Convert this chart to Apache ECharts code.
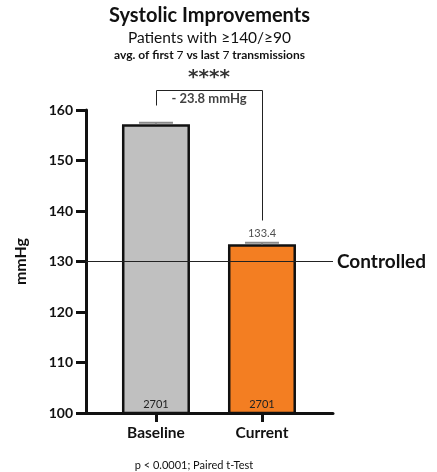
<!DOCTYPE html>
<html>
<head>
<meta charset="utf-8">
<script src="https://cdn.jsdelivr.net/npm/echarts@6/dist/echarts.min.js"></script>
<style>
  html, body { margin: 0; padding: 0; background: #fff; }
  #chart { width: 437px; height: 472px; }
</style>
</head>
<body>
<div id="chart"></div>
<script>
// Mean systolic pressure, first 7 vs last 7 transmissions
const categories = ['Baseline', 'Current'];
const meanValues = [157.2, 133.4];
const semValues = [0.3, 0.3];
const patientCounts = [2701, 2701];
const barColors = ['#C0C0C0', '#F37E22'];
const yTicks = [100, 110, 120, 130, 140, 150, 160];
const controlledLevel = 130;
const significance = '****';
const pValueNote = 'p < 0.0001; Paired t-Test';

const FONT = 'Lato, "Open Sans", sans-serif';
const diff = meanValues[1] - meanValues[0];
const diffLabel = '- ' + Math.abs(diff).toFixed(1) + ' mmHg';

// bracket between the two bars: top level and the gap left above each bar
const bracketTop = 164;
const bracketGaps = [3.8, 4.8];

const chart = echarts.init(document.getElementById('chart'), null, { renderer: 'canvas' });

const option = {
  backgroundColor: '#fff',
  animation: false,
  textStyle: { fontFamily: FONT },
  grid: { left: 86, right: 104, top: 110, bottom: 59 },
  xAxis: {
    type: 'value',
    position: 'bottom',
    min: -0.66,
    max: 1.67,
    splitLine: { show: false },
    axisLine: { show: true, onZero: false, lineStyle: { color: '#111', width: 3 } },
    axisTick: { show: true, inside: false, customValues: [0, 1], length: 9, lineStyle: { color: '#111', width: 3 } },
    axisLabel: {
      customValues: [0, 1],
      formatter: v => categories[Math.round(v)],
      color: '#111', fontWeight: 'bold', fontSize: 15.5, fontFamily: FONT, margin: 12
    }
  },
  yAxis: {
    type: 'value',
    position: 'left',
    min: yTicks[0],
    max: yTicks[yTicks.length - 1],
    interval: 10,
    name: 'mmHg',
    nameLocation: 'middle',
    nameRotate: 90,
    nameGap: 57,
    nameTextStyle: { color: '#111', fontWeight: 'bold', fontSize: 16, fontFamily: FONT },
    splitLine: { show: false },
    axisLine: { show: true, onZero: false, lineStyle: { color: '#111', width: 3 } },
    axisTick: { show: true, length: 10, lineStyle: { color: '#111', width: 3 } },
    axisLabel: { color: '#111', fontWeight: 'bold', fontSize: 14, fontFamily: FONT, margin: 13 }
  },
  graphic: [
    {
      type: 'text', x: 209.5, y: 16,
      style: { text: 'Systolic Improvements', fill: '#111', font: 'bold 20px ' + FONT, textAlign: 'center', textVerticalAlign: 'middle' }
    },
    {
      type: 'text', x: 209.5, y: 38,
      style: { text: 'Patients with \u2265140/\u226590', fill: '#111', font: '15.5px ' + FONT, textAlign: 'center', textVerticalAlign: 'middle' }
    },
    {
      type: 'text', x: 209.5, y: 55,
      style: {
        text: '{b|avg. of first }{n|7}{b| vs last }{n|7}{b| transmissions}',
        textAlign: 'center', textVerticalAlign: 'middle',
        rich: {
          b: { fontFamily: FONT, fontWeight: 'bold', fontSize: 12, fill: '#111' },
          n: { fontFamily: FONT, fontWeight: 'normal', fontSize: 12, fill: '#111' }
        }
      }
    },
    {
      type: 'text', x: 194, y: 465,
      style: { text: pValueNote, fill: '#111', font: '11px ' + FONT, textAlign: 'center', textVerticalAlign: 'middle' }
    }
  ],
  series: [
    {
      type: 'bar',
      barWidth: 68,
      data: meanValues.map((v, i) => ({
        value: [i, v],
        itemStyle: { color: barColors[i], borderColor: '#111', borderWidth: 2.5 },
        label: {
          show: true, position: 'insideBottom', distance: 4,
          formatter: String(patientCounts[i]),
          color: '#222', fontSize: 11, fontFamily: FONT
        }
      })),
      markLine: {
        silent: true,
        symbol: 'none',
        lineStyle: { color: '#222', width: 1, type: 'solid' },
        label: {
          show: true, position: 'end', distance: 4,
          formatter: 'Controlled',
          color: '#111', fontWeight: 'bold', fontSize: 19, fontFamily: FONT
        },
        data: [{ yAxis: controlledLevel }]
      },
      z: 2
    },
    {
      // SEM caps
      type: 'custom',
      z: 3,
      renderItem: (params, api) => {
        const x = api.value(0);
        const top = api.coord([x, api.value(1) + api.value(2)]);
        const base = api.coord([x, api.value(1)]);
        return {
          type: 'group',
          children: [
            { type: 'line', shape: { x1: top[0], y1: top[1], x2: base[0], y2: base[1] }, style: { stroke: '#8a8a8a', lineWidth: 2 } },
            { type: 'line', shape: { x1: top[0] - 17, y1: top[1], x2: top[0] + 17, y2: top[1] }, style: { stroke: '#8a8a8a', lineWidth: 2 } }
          ]
        };
      },
      data: meanValues.map((v, i) => [i, v, semValues[i]])
    },
    {
      // mean label above the current bar
      type: 'scatter',
      symbolSize: 0,
      z: 4,
      data: [{
        value: [1, meanValues[1] + semValues[1]],
        label: { show: true, position: 'top', distance: 4, formatter: meanValues[1].toFixed(1), color: '#222', fontSize: 11, fontFamily: FONT }
      }]
    },
    {
      // significance bracket
      type: 'custom',
      clip: false,
      z: 4,
      renderItem: (params, api) => {
        if (params.dataIndex !== 0) return null;
        const p0 = api.coord([0, meanValues[0] + bracketGaps[0]]);
        const p1 = api.coord([0, bracketTop]);
        const p2 = api.coord([1, bracketTop]);
        const p3 = api.coord([1, meanValues[1] + bracketGaps[1]]);
        return {
          type: 'polyline',
          shape: { points: [p0, p1, p2, p3].map(p => [Math.round(p[0]) + 0.5, Math.round(p[1]) + 0.5]) },
          style: { stroke: '#222', lineWidth: 1, fill: null }
        };
      },
      data: [[0, bracketTop]]
    },
    {
      type: 'scatter',
      clip: false,
      symbolSize: 0,
      z: 5,
      data: [
        { value: [0.5, bracketTop], label: { show: true, position: 'top', distance: 2, formatter: significance, color: '#000', fontWeight: 'bold', fontSize: 20, fontFamily: '"DejaVu Sans", sans-serif' } },
        { value: [0.5, bracketTop], label: { show: true, position: 'bottom', distance: 3, formatter: diffLabel, color: '#111', fontWeight: 'bold', fontSize: 13, fontFamily: FONT } }
      ]
    }
  ]
};

chart.setOption(option);
</script>
</body>
</html>
